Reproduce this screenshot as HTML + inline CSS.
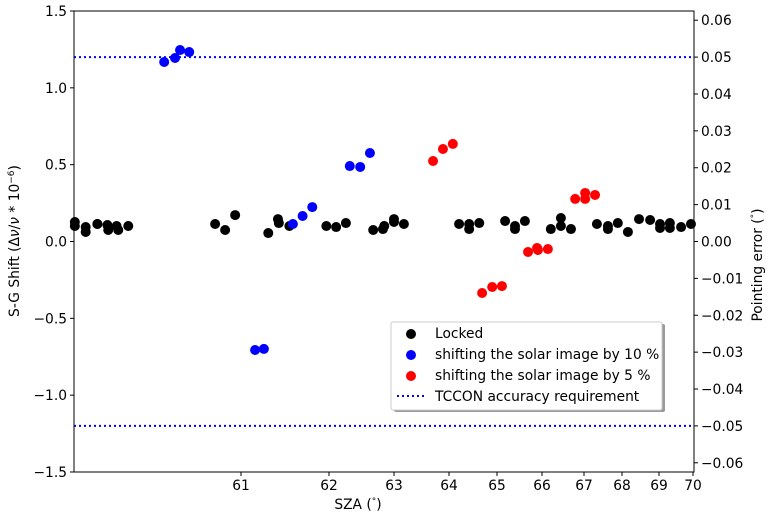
<!DOCTYPE html>
<html><head><meta charset="utf-8"><style>
body{margin:0;background:#fff;}
svg text{font-family:"DejaVu Sans","Liberation Sans",sans-serif;font-size:13.8px;fill:#000;}
</style></head><body>
<svg id="chart" width="772" height="517" xmlns="http://www.w3.org/2000/svg"></svg>
<script>
const xTickLabels=[61,62,63,64,65,66,67,68,69,70];
const yLeftTicks=[-1.5,-1.0,-0.5,0.0,0.5,1.0,1.5];
const yRightTicks=[-0.06,-0.05,-0.04,-0.03,-0.02,-0.01,0.00,0.01,0.02,0.03,0.04,0.05,0.06];
const tcconLimit=1.2;
const lockedX=[59.01,59.01,59.14,59.14,59.28,59.28,59.40,59.41,59.51,59.53,59.65,60.69,60.81,60.93,61.31,61.42,61.43,61.55,61.97,62.11,62.26,62.68,62.83,62.85,63.0,63.0,63.18,64.21,64.42,64.42,64.63,65.18,65.40,65.40,65.62,66.21,66.45,66.45,66.69,67.34,67.63,67.63,67.89,68.16,68.46,68.76,69.03,69.03,69.32,69.32,69.65,69.94];
const lockedY=[0.127,0.101,0.094,0.062,0.114,0.114,0.107,0.075,0.101,0.075,0.101,0.114,0.075,0.172,0.055,0.146,0.120,0.101,0.101,0.094,0.120,0.075,0.081,0.101,0.146,0.127,0.114,0.114,0.114,0.081,0.120,0.133,0.101,0.081,0.133,0.081,0.153,0.101,0.081,0.114,0.101,0.081,0.120,0.062,0.146,0.140,0.114,0.088,0.120,0.088,0.094,0.114];
const shift10X=[60.08,60.21,60.27,60.38,61.16,61.26,61.59,61.70,61.81,62.32,62.48,62.63];
const shift10Y=[1.168,1.194,1.246,1.233,-0.706,-0.699,0.114,0.166,0.224,0.491,0.485,0.576];
const shift5X=[63.71,63.89,64.08,64.69,64.90,65.11,65.69,65.89,65.91,66.14,66.79,67.03,67.03,67.29];
const shift5Y=[0.524,0.602,0.635,-0.335,-0.296,-0.29,-0.068,-0.042,-0.055,-0.049,0.277,0.316,0.277,0.303];

const NS="http://www.w3.org/2000/svg";
const svg=document.getElementById('chart');
const L=74,R=694,T=11,B=472;
const xBreakVal=[59,61,62,63,64,65,66,67,68,69,70];
const xBreakPx=[74,241,329,394,449,497,542,584,622,659,693];
function xs(v){
  for(let i=0;i<xBreakVal.length-1;i++){
    if(v<=xBreakVal[i+1]||i===xBreakVal.length-2){
      const t=(v-xBreakVal[i])/(xBreakVal[i+1]-xBreakVal[i]);
      return xBreakPx[i]+t*(xBreakPx[i+1]-xBreakPx[i]);
    }
  }
}
function ys(v){return B-(v+1.5)/3*(B-T);}
function ysR(v){return ys(v*24);}
function mk(tag,attrs,parent){const e=document.createElementNS(NS,tag);for(const k in attrs)e.setAttribute(k,attrs[k]);(parent||svg).appendChild(e);return e;}

[tcconLimit,-tcconLimit].forEach((v,i)=>{
  const l=mk('line',{x1:L,x2:R,y1:ys(v),y2:ys(v),stroke:'#0000ff','stroke-width':2,'stroke-dasharray':'2,3'});
  
  
});

function scatter(xsArr,ysArr,color,name){
  const g=mk('g',{});
  
  
  for(let i=0;i<xsArr.length;i++){
    const c=mk('circle',{cx:xs(xsArr[i]),cy:ys(ysArr[i]),r:5,fill:color},g);
    
    
  }
}
scatter(lockedX,lockedY,'#000','locked');
scatter(shift10X,shift10Y,'#0000ff','shift-10');
scatter(shift5X,shift5Y,'#ff0000','shift-5');

const fr=mk('rect',{x:L,y:T,width:R-L,height:B-T,fill:'none',stroke:'#000','stroke-width':1});



xTickLabels.forEach(v=>{
  const x=xs(v);
  mk('line',{x1:x,x2:x,y1:B,y2:B+4,stroke:'#000'});
  const t=mk('text',{x:x,y:B+18,'text-anchor':'middle'});t.textContent=v;
  
  
});
yLeftTicks.forEach(v=>{
  const y=ys(v);
  mk('line',{x1:L-4,x2:L,y1:y,y2:y,stroke:'#000'});
  const t=mk('text',{x:L-7,y:y+5,'text-anchor':'end'});t.textContent=(v<0?'\u2212':'')+Math.abs(v).toFixed(1);
  
  
});
yRightTicks.forEach(v=>{
  const y=ysR(v);
  mk('line',{x1:R,x2:R+4,y1:y,y2:y,stroke:'#000'});
  const t=mk('text',{x:R+7,y:y+5,'text-anchor':'start'});t.textContent=(v<0?'\u2212':'')+Math.abs(v).toFixed(2);
  
  
});
</script>
<svg style="position:absolute;left:0;top:0" width="772" height="517" xmlns="http://www.w3.org/2000/svg">
<text x="358" y="509" text-anchor="middle" style="font-family:'DejaVu Sans',sans-serif;font-size:13.8px">SZA (<tspan font-size="9" dy="-5">°</tspan><tspan dy="5">)</tspan></text>
<text transform="translate(19,241) rotate(-90)" text-anchor="middle" style="font-family:'DejaVu Sans',sans-serif;font-size:13.8px">S-G Shift (Δ<tspan font-style="italic">ν</tspan>/<tspan font-style="italic">ν</tspan> * 10<tspan font-size="9" dy="-5">−6</tspan><tspan dy="5">)</tspan></text>
<text transform="translate(762,265) rotate(-90)" text-anchor="middle" style="font-family:'DejaVu Sans',sans-serif;font-size:13.8px">Pointing error (<tspan font-size="9" dy="-5">°</tspan><tspan dy="5">)</tspan></text>
<g style="font-family:'DejaVu Sans',sans-serif;font-size:13.8px">
<rect x="394" y="324" width="271" height="88" fill="#999" rx="2"/>
<rect x="391" y="322" width="271" height="88" fill="#fff" stroke="#ccc" rx="2"/>
<circle cx="411" cy="334" r="5" fill="#000"/><text x="435" y="338">Locked</text>
<circle cx="411" cy="355" r="5" fill="#0000ff"/><text x="435" y="359">shifting the solar image by 10 %</text>
<circle cx="411" cy="376" r="5" fill="#ff0000"/><text x="435" y="380">shifting the solar image by 5 %</text>
<line x1="397" x2="425" y1="396" y2="396" stroke="#0000ff" stroke-width="2" stroke-dasharray="2,3"/><text x="435" y="401">TCCON accuracy requirement</text>
</g>
</svg>
</body></html>
